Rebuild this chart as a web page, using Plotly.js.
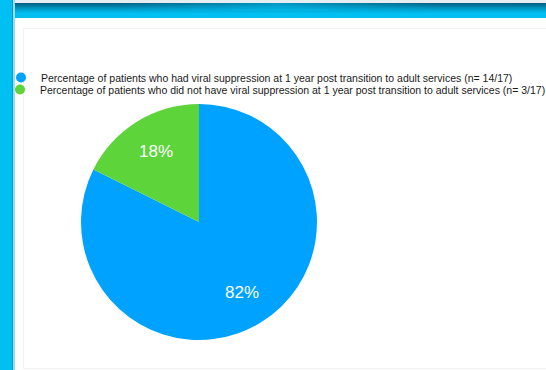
<!DOCTYPE html>
<html><head><meta charset="utf-8">
<script src="https://cdn.plot.ly/plotly-3.0.1.min.js"></script>
<style>
html,body{margin:0;padding:0;background:#fff;overflow:hidden}
#wrap{position:relative;width:546px;height:370px;background:#fff}
#topline{position:absolute;left:0;top:0;width:546px;height:3px;background:#e6eef2}
#topbar{position:absolute;left:0;top:3px;width:546px;height:15px;
 background:linear-gradient(to bottom, rgba(0,60,90,0.75) 0%, rgba(0,90,120,0.35) 40%, rgba(0,0,0,0) 70%),
 #00c0f2;}
#topmid{position:absolute;left:120px;top:3px;width:320px;height:8px;
 background:linear-gradient(to right, rgba(0,192,242,0) 0%, rgba(0,192,242,0.55) 50%, rgba(0,192,242,0) 100%)}
#leftbar{position:absolute;left:0;top:0;width:12px;height:370px;background:#00bff2;border-right:1px solid #0a9ccc}
#leftedge{position:absolute;left:13px;top:0;width:2px;height:370px;background:#9fdbef}
#inner{position:absolute;left:23px;top:28px;width:600px;height:339px;border:1px solid #f1f1f1}
#chart{position:absolute;left:0;top:0;width:546px;height:370px}
</style></head>
<body><div id="wrap">
<div id="inner"></div>
<div id="topline"></div>
<div id="topbar"></div>
<div id="topmid"></div>
<div id="leftbar"></div>
<div id="leftedge"></div>
<div id="chart"></div>
</div>
<script>
var labels = [
  "Percentage of patients who had viral suppression at 1 year post transition to adult services (n= 14/17)",
  "Percentage of patients who did not have viral suppression at 1 year post transition to adult services (n= 3/17)"
];
var counts = [14, 3];
var colors = ["#00a2ff", "#5dd43a"];

var W = 546, H = 370;
var pie = {cx: 199, cy: 222, r: 118};
var traces = [{
  type: "pie",
  labels: labels,
  values: counts,
  sort: false,
  direction: "clockwise",
  rotation: 0,
  marker: {colors: colors, line: {width: 0}},
  textinfo: "none",
  hoverinfo: "skip",
  showlegend: false,
  domain: {x: [(pie.cx - pie.r) / W, (pie.cx + pie.r) / W],
           y: [(H - pie.cy - pie.r) / H, (H - pie.cy + pie.r) / H]}
}];
// slice labels placed along each slice's mid-angle (derived from the data)
var total = counts.reduce(function (a, b) { return a + b; }, 0);
var annotations = [];
var cum = 0;
counts.forEach(function (v) {
  var mid = (cum + v / 2) / total;
  cum += v;
  var th = 2 * Math.PI * mid;
  var rf = 0.7 * pie.r;
  annotations.push({
    xref: "paper", yref: "paper",
    x: (pie.cx + rf * Math.sin(th)) / W,
    y: (H - (pie.cy - rf * Math.cos(th))) / H,
    text: Math.round(v / total * 100) + "%",
    showarrow: false, xanchor: "center", yanchor: "middle",
    font: {color: "#ffffff", size: 17, family: "Liberation Sans, Arial, sans-serif"}
  });
});
var legendNames = ["legend", "legend2"];
labels.forEach(function (lab, i) {
  traces.push({
    type: "scatter", mode: "markers", x: [null], y: [null],
    name: lab, legend: legendNames[i], showlegend: true,
    marker: {color: colors[i], size: 10, symbol: "circle"},
    hoverinfo: "skip"
  });
});
function leg(topPx) {
  return {x: 1 / W, xanchor: "left", y: (H - topPx) / H, yanchor: "top",
    bgcolor: "rgba(0,0,0,0)", borderwidth: 0,
    font: {family: "Liberation Sans, Arial, sans-serif", size: 10.5, color: "#1a1a1a"}};
}
var layout = {
  width: W, height: H,
  margin: {l: 0, r: 0, t: 0, b: 0},
  paper_bgcolor: "rgba(0,0,0,0)",
  plot_bgcolor: "rgba(0,0,0,0)",
  xaxis: {visible: false}, yaxis: {visible: false},
  showlegend: true,
  legend: leg(63),
  legend2: leg(75),
  annotations: annotations
};
Plotly.newPlot("chart", traces, layout, {displayModeBar: false, staticPlot: true});
</script>
</body></html>
